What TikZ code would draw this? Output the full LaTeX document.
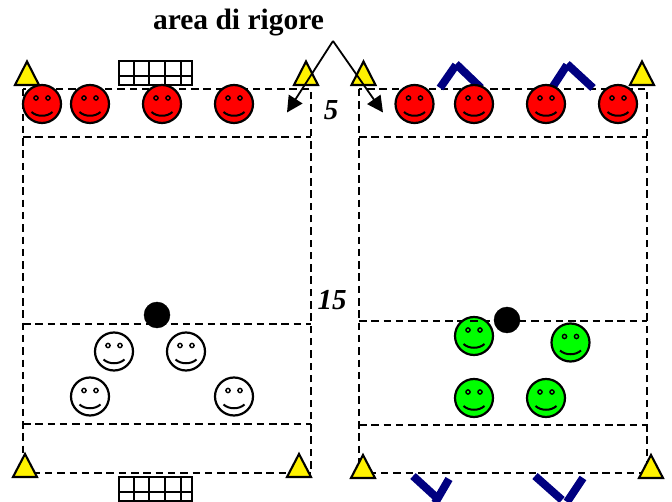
\documentclass[tikz,border=0pt]{standalone}
\usepackage{fontspec}
\setmainfont{Liberation Serif}
\usetikzlibrary{arrows.meta}
\definecolor{navy}{RGB}{0,0,128}
\tikzset{
  x=1pt,y=-1pt,
  field/.style={draw=black,line width=2.3pt,dash pattern=on 7.5pt off 4.8pt},
  marker/.style={draw=black,fill=yellow,line width=2.1pt,line join=miter},
  ballshape/.style={circle,fill=black,draw=black,minimum size=26pt,inner sep=0pt},
  barline/.style={draw=navy,line width=8pt},
  goalbox/.style={draw=black,line width=2pt},
  callout/.style={draw=black,line width=1.8pt,-{Triangle[length=16pt,width=16pt]}},
  dim/.style={font=\bfseries\itshape\fontsize{29}{29}\selectfont,inner sep=0pt},
  facepic/.pic={
    \draw[fill=#1,line width=2.2pt] (0,0) circle[radius=19];
    \draw[line width=1.4pt] (-6,-6) circle[radius=2.1] (6,-6) circle[radius=2.1];
    \draw[line width=2pt] (-10.5,8) .. controls (-5,13) and (5,13) .. (10.5,8);
  },
  facepic/.default=white
}
\begin{document}
\begin{tikzpicture}
\useasboundingbox (0,0) rectangle (672,502);
% fields
\draw[field] (23,89) rectangle (311,473);
\draw[field] (23,137) -- (311,137);
\draw[field] (23,324) -- (311,324);
\draw[field] (23,424) -- (311,424);
\draw[field] (359,89) rectangle (647,473);
\draw[field] (359,137) -- (647,137);
\draw[field] (359,321) -- (647,321);
\draw[field] (359,425) -- (647,425);
% goals
\draw[goalbox] (118.5,61) rectangle (191.5,85);
\draw[goalbox] (133.5,61) -- (133.5,85) (149,61) -- (149,85) (165,61) -- (165,85) (180.5,61) -- (180.5,85) (118.5,76) -- (191.5,76);
\draw[goalbox] (118.5,477) rectangle (191.5,501);
\draw[goalbox] (133.5,477) -- (133.5,501) (149,477) -- (149,501) (165,477) -- (165,501) (180.5,477) -- (180.5,501) (118.5,491.5) -- (191.5,491.5);
% markers
\draw[marker] (27,61.5) -- (39,85) -- (15,85) -- cycle;
\draw[marker] (306,61.5) -- (318,85) -- (294,85) -- cycle;
\draw[marker] (363.5,61.5) -- (375.5,85) -- (351.5,85) -- cycle;
\draw[marker] (642,61.5) -- (654,85) -- (630,85) -- cycle;
\draw[marker] (25,454) -- (37,477) -- (13,477) -- cycle;
\draw[marker] (299,454) -- (311,477) -- (287,477) -- cycle;
\draw[marker] (363,455) -- (375,478) -- (351,478) -- cycle;
\draw[marker] (651,455) -- (663,478) -- (639,478) -- cycle;
% blue bars
\draw[barline] (440,88) -- (456,65);
\draw[barline] (456,64) -- (481,88);
\draw[barline] (552,88) -- (567,65);
\draw[barline] (567,64) -- (593,88);
\draw[barline] (413,476) -- (437,498);
\draw[barline] (449,479) -- (435,503);
\draw[barline] (535,476) -- (562,500);
\draw[barline] (583,478) -- (567,502);
% red team
\pic at (42,104) {facepic=red};
\pic at (90,104) {facepic=red};
\pic at (162,104) {facepic=red};
\pic at (234,104) {facepic=red};
\pic at (414.5,104) {facepic=red};
\pic at (474,104) {facepic=red};
\pic at (546,104) {facepic=red};
\pic at (618,104) {facepic=red};
% white team
\pic at (114,351.5) {facepic=white};
\pic at (186,351.5) {facepic=white};
\pic at (90,396.5) {facepic=white};
\pic at (234,396.5) {facepic=white};
% green team
\pic at (474,336) {facepic=green};
\pic at (570.5,342.5) {facepic=green};
\pic at (474,398) {facepic=green};
\pic at (546,398) {facepic=green};
\draw[line width=1.2pt] (470,321) -- (478,321);
% balls
\node[ballshape] (ballL) at (157,315) {};
\node[ballshape] (ballR) at (507,320) {};
% labels and callout
\node[font=\bfseries\fontsize{29.5}{29.5}\selectfont,inner sep=0pt] (title) at (238.5,23) {area di rigore};
\node[dim] (five) at (331,110) {5};
\node[dim] (fifteen) at (332,300) {15};
\coordinate (apex) at (333,41);
\coordinate (tipL) at (287,112.5);
\coordinate (tipR) at (383,112.5);
\draw[callout] (apex) -- (tipL);
\draw[callout] (apex) -- (tipR);
\end{tikzpicture}
\end{document}
